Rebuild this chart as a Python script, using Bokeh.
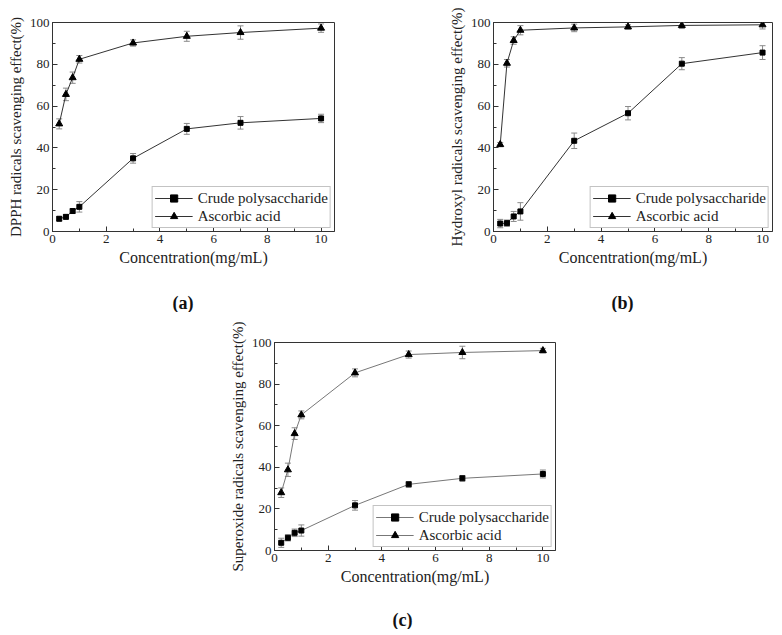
from bokeh.plotting import figure
from bokeh.layouts import column, row
from bokeh.models import (Range1d, SingleIntervalTicker, Whisker, ColumnDataSource,
                          Legend, LegendItem, TeeHead, Spacer, Title)
from bokeh.embed import file_html
from bokeh.resources import INLINE

# ---- data ----
conc = [0.25, 0.5, 0.75, 1, 3, 5, 7, 10]

dpph_crude = [6.1, 7.0, 9.8, 11.8, 35.0, 49.1, 52.0, 54.1]
dpph_crude_err = [1.0, 1.0, 1.0, 2.5, 2.3, 2.6, 3.0, 2.0]
dpph_asc = [51.5, 65.6, 73.6, 82.4, 90.2, 93.4, 95.2, 97.3]
dpph_asc_err = [2.4, 3.0, 2.7, 1.8, 1.5, 2.4, 3.2, 2.0]

hyd_crude = [3.8, 4.0, 7.2, 9.6, 43.4, 56.6, 80.3, 85.6]
hyd_crude_err = [2.0, 1.5, 2.4, 4.2, 3.7, 3.2, 2.9, 3.3]
hyd_asc = [41.6, 80.5, 91.4, 96.3, 97.4, 97.9, 98.6, 98.9]
hyd_asc_err = [1.0, 1.8, 1.8, 2.2, 1.8, 1.0, 1.5, 2.0]

sup_crude = [3.7, 6.1, 8.5, 9.6, 21.7, 31.8, 34.7, 36.8]
sup_crude_err = [2.2, 1.5, 1.8, 2.7, 2.3, 1.3, 1.3, 1.9]
sup_asc = [27.8, 38.8, 56.2, 65.2, 85.4, 94.2, 95.2, 96.1]
sup_asc_err = [2.3, 3.2, 2.8, 1.9, 1.9, 1.7, 3.0, 1.1]

series_names = ["Crude polysaccharide", "Ascorbic acid"]
x_label = "Concentration(mg/mL)"
y_labels = ["DPPH radicals scavenging effect(%)",
            "Hydroxyl radicals scavenging effect(%)",
            "Superoxide radicals scavenging effect(%)"]
panel_labels = ["(a)", "(b)", "(c)"]

FONT = "Liberation Serif"


def make_panel(y_label, crude, crude_err, asc, asc_err, xmax, panel_label,
               fw, fh, bl, br, bt, bb, line_color, lab_offset, gap):
    p = figure(frame_width=fw, frame_height=fh, min_border_left=bl,
               min_border_right=br, min_border_top=bt, min_border_bottom=bb,
               x_range=Range1d(0, xmax), y_range=Range1d(0, 100),
               output_backend="svg", toolbar_location=None)
    p.grid.visible = False
    p.outline_line_color = "#333333"
    p.outline_line_width = 1
    p.background_fill_color = "white"
    p.border_fill_color = "white"

    p.xaxis.ticker = SingleIntervalTicker(interval=2, num_minor_ticks=2)
    p.yaxis.ticker = SingleIntervalTicker(interval=20, num_minor_ticks=2)
    for ax in (p.xaxis[0], p.yaxis[0]):
        ax.major_tick_in = 5
        ax.major_tick_out = 0
        ax.minor_tick_in = 3
        ax.minor_tick_out = 0
        ax.axis_line_color = "#333333"
        ax.major_tick_line_color = "#333333"
        ax.minor_tick_line_color = "#333333"
        ax.major_label_text_font = FONT
        ax.major_label_text_font_size = "13px"
        ax.major_label_text_color = "#222222"
        ax.axis_label_text_font = FONT
        ax.axis_label_text_font_style = "normal"
        ax.axis_label_text_color = "#222222"
        ax.major_label_standoff = 3
        ax.axis_label_standoff = 3
    p.xaxis.axis_label = x_label
    p.yaxis.axis_label = y_label
    p.xaxis.axis_label_text_font_size = "16px"
    p.yaxis.axis_label_text_font_size = "15px"

    items = []
    for vals, errs, marker, msize, name in (
            (crude, crude_err, "square", 5, series_names[0]),
            (asc, asc_err, "triangle", 7, series_names[1])):
        src = ColumnDataSource(dict(
            x=conc, y=vals,
            lower=[v - e for v, e in zip(vals, errs)],
            upper=[v + e for v, e in zip(vals, errs)]))
        w = Whisker(base="x", upper="upper", lower="lower", source=src,
                    line_color="#8a8a8a", line_width=1, level="underlay",
                    upper_head=TeeHead(size=6, line_color="#8a8a8a", line_width=1),
                    lower_head=TeeHead(size=6, line_color="#8a8a8a", line_width=1))
        p.add_layout(w)
        l = p.line("x", "y", source=src, line_color=line_color, line_width=1)
        s = p.scatter("x", "y", source=src, marker=marker, size=msize,
                      fill_color="black", line_color="black")
        items.append(LegendItem(label=name, renderers=[l, s]))

    leg = Legend(items=items, location="bottom_right", margin=3, padding=2,
                 spacing=0, glyph_width=38, glyph_height=18, label_height=18,
                 label_standoff=5, label_text_font=FONT,
                 label_text_font_size="15px", label_text_color="#222222",
                 border_line_color="#888888", border_line_width=1,
                 background_fill_color="white", background_fill_alpha=1)
    p.add_layout(leg, "center")

    # blank spacer between the x axis and the panel letter
    p.add_layout(Title(text=" ", standoff=gap, text_font_size="1px"), "below")
    t = Title(text=panel_label, align="left", offset=lab_offset, standoff=0,
              text_font=FONT, text_font_size="18px",
              text_font_style="bold", text_color="#111111")
    p.add_layout(t, "below")
    return p


pa = make_panel(y_labels[0], dpph_crude, dpph_crude_err, dpph_asc, dpph_asc_err,
                10.5, panel_labels[0], 282, 209, 52, 111, 22, 30,
                "#333333", 120, 19)
pb = make_panel(y_labels[1], hyd_crude, hyd_crude_err, hyd_asc, hyd_asc_err,
                10.37, panel_labels[1], 279, 209, 46, 4, 22, 30,
                "#333333", 118, 19)
pc = make_panel(y_labels[2], sup_crude, sup_crude_err, sup_asc, sup_asc_err,
                10.47, panel_labels[2], 281, 208, 46, 10, 30, 30,
                "#777777", 118, 17)

layout = column(row(pa, pb), row(Spacer(width=226, height=10), pc))

open("out.html", "w").write(file_html(layout, INLINE))
